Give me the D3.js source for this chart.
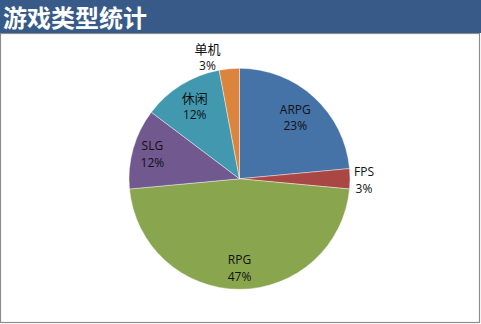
<!DOCTYPE html>
<html><head><meta charset="utf-8">
<script src="https://cdn.jsdelivr.net/npm/d3@7/dist/d3.min.js"></script>
<style>
html,body{margin:0;padding:0;background:#fff;}
svg{display:block;}
</style></head>
<body>
<svg id="c" width="481" height="324"></svg>
<script>
const categories = ["ARPG", "FPS", "RPG", "SLG", "休闲", "单机"];
const values = [8, 1, 16, 4, 4, 1];
const percentLabels = ["23%", "3%", "47%", "12%", "12%", "3%"];
const colors = ["#4572a7", "#aa4643", "#89a54e", "#71588f", "#4198af", "#db843d"];
const title = "游戏类型统计";

const svg = d3.select("#c");
const W = 481, H = 324;
const font = "'Open Sans','Noto Sans CJK SC',sans-serif";

// frame
svg.append("rect").attr("x", 0.5).attr("y", 33.5).attr("width", W - 2).attr("height", H - 35)
  .attr("fill", "#fff").attr("stroke", "#8c8c8c").attr("stroke-width", 1.2);
// title bar
svg.append("rect").attr("x", 0).attr("y", 0).attr("width", W).attr("height", 33).attr("fill", "#375a88");
svg.append("text").attr("x", 3).attr("y", 27).text(title)
  .attr("fill", "#fff").attr("font-family", "'Noto Sans CJK SC',sans-serif")
  .attr("font-weight", "bold").attr("font-size", 24);

const cx = 239.5, cy = 178.8, r = 110.5;
const pie = d3.pie().sort(null).value(d => d)(values);
const arc = d3.arc().innerRadius(0).outerRadius(r);
const g = svg.append("g").attr("transform", `translate(${cx},${cy})`);
g.selectAll("path").data(pie).join("path")
  .attr("d", arc).attr("fill", (d, i) => colors[i])
  .attr("stroke", "rgba(255,255,255,0.6)").attr("stroke-width", 0.7);

const labelR = [0.75, 1.13, 0.81, 0.82, 0.77, 1.13];
const lg = g.selectAll("g.lab").data(pie).join("g").attr("class", "lab")
  .attr("transform", (d, i) => {
    const a = (d.startAngle + d.endAngle) / 2;
    let rr = labelR[i] * r;
    let x = Math.sin(a) * rr, y = -Math.cos(a) * rr;
    if (i === 1) { x = 124.5; y = 1.5; }
    if (i === 5) { x = -32; y = -121.8; }
    return `translate(${x},${y})`;
  });
lg.append("text").attr("text-anchor", "middle").attr("y", (d, i) => i >= 4 ? -3 : -4).text((d, i) => categories[i])
  .attr("font-family", font).attr("font-size", (d, i) => i >= 4 ? 13 : 12).attr("fill", "#111");
lg.append("text").attr("text-anchor", "middle").attr("y", 12.8).text((d, i) => percentLabels[i])
  .attr("font-family", font).attr("font-size", 12).attr("fill", "#111");
</script>
</body></html>
